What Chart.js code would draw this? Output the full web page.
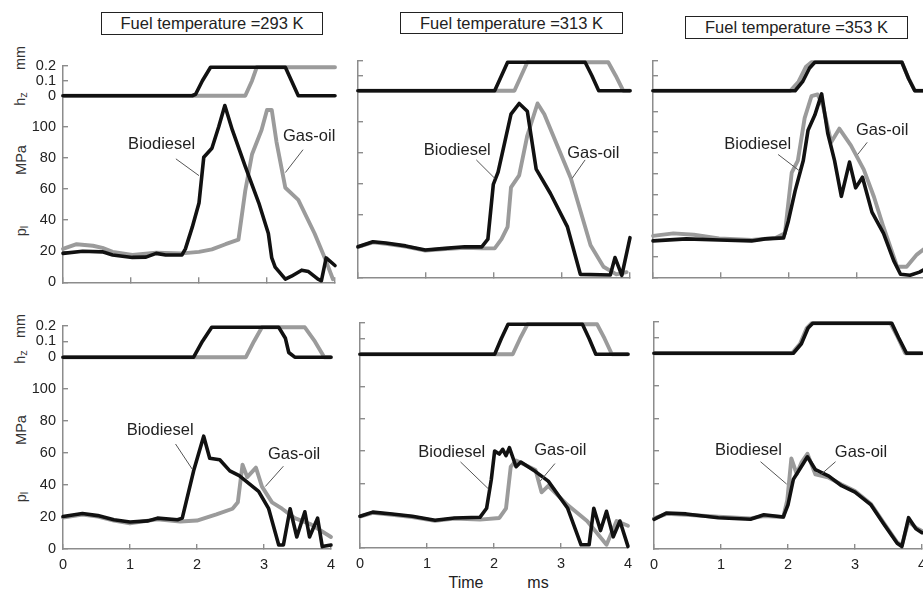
<!DOCTYPE html>
<html><head><meta charset="utf-8">
<script src="https://cdn.jsdelivr.net/npm/chart.js@4/dist/chart.umd.min.js"></script>
<style>
html,body{margin:0;padding:0;background:#fff;width:923px;height:593px;overflow:hidden;position:relative;font-family:"Liberation Sans",Arial,sans-serif;}
.pan{position:absolute;}
.box{position:absolute;border:1.5px solid #222;font-size:16.5px;line-height:20px;text-align:center;color:#222;box-sizing:border-box;white-space:nowrap;}
.rot{position:absolute;transform:translate(-50%,-50%) rotate(-90deg);font-size:14.5px;color:#333;white-space:nowrap;}
.rot sub{font-size:11px;vertical-align:-2px;}
.lab{position:absolute;font-size:16px;color:#222;transform:translate(-50%,-50%);white-space:nowrap;}
</style></head><body>
<div class="box" style="left:101px;top:12px;width:222px;height:23px;">Fuel temperature =293 K</div>
<div class="box" style="left:400px;top:12px;width:223px;height:22px;">Fuel temperature =313 K</div>
<div class="box" style="left:685px;top:16px;width:223px;height:23px;">Fuel temperature =353 K</div>

<div class="rot" style="left:20px;top:58px;">mm</div>
<div class="rot" style="left:20px;top:99px;">h<sub>z</sub></div>
<div class="rot" style="left:21px;top:160px;">MPa</div>
<div class="rot" style="left:21px;top:231px;">p<sub>l</sub></div>
<div class="rot" style="left:20px;top:326px;">mm</div>
<div class="rot" style="left:20px;top:357px;">h<sub>z</sub></div>
<div class="rot" style="left:21px;top:430px;">MPa</div>
<div class="rot" style="left:21px;top:497px;">p<sub>l</sub></div>
<div class="lab" style="left:466px;top:583px;">Time</div>
<div class="lab" style="left:538px;top:583px;">ms</div>

<script>
// ---------- data (time in ms, pressure in MPa, lift in mm) ----------
const TIME_TICKS = [0, 1, 2, 3, 4];
const HZ_TICKS = [0, 0.1, 0.2];
const P_STEP = 20;
const TEMPERATURES = ['293 K', '313 K', '353 K'];
const SERIES = ['Biodiesel', 'Gas-oil'];

// top row
const T293_BIO_P = [[0,18.6],[0.29,20],[0.58,19.6],[0.73,17.6],[1.02,16],[1.22,16.2],[1.37,18.6],[1.51,17.6],[1.75,17.6],[1.8,21.5],[1.9,35.3],[2.0,51],[2.07,80.4],[2.19,86.2],[2.29,100],[2.38,113.7],[2.49,98],[2.68,74.5],[2.88,51],[3.02,31.4],[3.07,15.7],[3.12,9.8],[3.27,2],[3.36,3.9],[3.51,7.8],[3.61,6.9],[3.75,2],[3.8,1],[3.87,15.7],[4.0,10.8]];
const T293_GAS_P = [[0,21.5],[0.2,24.5],[0.44,23.5],[0.58,22.1],[0.73,19.6],[1.02,17.6],[1.37,19],[1.75,18.6],[2.0,19.6],[2.19,21.2],[2.39,24.5],[2.58,27.4],[2.68,58.8],[2.78,82.4],[2.92,98],[3.0,110.8],[3.07,110.8],[3.14,90.2],[3.27,60.8],[3.46,53],[3.7,31.4],[3.85,15.7],[3.97,2]];
const T293_BIO_H = [[0,0],[1.9,0],[1.95,0.01],[2.05,0.1],[2.17,0.19],[3.27,0.19],[3.36,0.1],[3.46,0],[4,0]];
const T293_GAS_H = [[0,0],[2.68,0],[2.78,0.1],[2.85,0.19],[4,0.19]];

const T313_BIO_P = [[0,19.6],[0.22,22.9],[0.41,22.1],[0.7,20.2],[0.99,17.6],[1.28,18.6],[1.57,19.6],[1.82,19.6],[1.91,24.5],[1.99,59.8],[2.06,67.6],[2.16,87.2],[2.25,104.9],[2.37,111.8],[2.49,106.8],[2.62,69.6],[2.83,53.9],[3.08,32.4],[3.27,1.9],[3.71,1.5],[3.78,12.7],[3.88,1.2],[4.0,25.5]];
const T313_GAS_P = [[0,19.6],[0.22,22.5],[0.41,21.5],[0.7,19.8],[0.99,17.2],[1.28,18.2],[1.57,19],[1.82,18.6],[2.01,18.6],[2.11,24.5],[2.2,32.4],[2.25,57.8],[2.37,65.6],[2.49,91.2],[2.64,111.8],[2.74,104.9],[3.13,63.7],[3.42,20.6],[3.61,6.8],[3.8,1.9],[3.95,3.3]];
const T313_BIO_H = [[0,0],[2.01,0],[2.11,0.1],[2.2,0.19],[3.34,0.19],[3.44,0.1],[3.54,0],[4,0]];
const T313_GAS_H = [[0,0],[2.3,0],[2.4,0.1],[2.49,0.19],[3.68,0.19],[3.79,0.1],[3.9,0],[4,0]];

const T353_BIO_P = [[0,35.1],[0.49,37.1],[0.97,36],[1.45,35.1],[1.65,37.1],[1.92,38],[1.99,54.1],[2.09,83.4],[2.21,112.6],[2.28,141.9],[2.38,156.5],[2.48,177],[2.57,139],[2.67,112.6],[2.77,78.1],[2.89,111.2],[2.98,86.3],[3.08,96.6],[3.22,62.9],[3.39,42.4],[3.54,16.1],[3.64,2.9],[3.78,2],[3.92,5],[4.0,8]];
const T353_GAS_P = [[0,40],[0.3,42.4],[0.6,41],[0.97,37.5],[1.45,36],[1.8,38],[1.94,42.4],[2.04,101],[2.13,112.6],[2.23,153.6],[2.33,174.7],[2.42,176.5],[2.5,165.3],[2.62,130.2],[2.74,143.4],[2.91,127.3],[3.1,103.9],[3.25,77.5],[3.39,48.3],[3.59,10.2],[3.73,10.2],[3.88,21.9],[4.0,28]];
const T353_BIO_H = [[0,0],[2.09,0],[2.2,0.06],[2.3,0.15],[2.38,0.19],[3.66,0.19],[3.76,0.08],[3.85,0],[4,0]];
const T353_GAS_H = [[0,0],[2.02,0],[2.14,0.06],[2.25,0.16],[2.33,0.19],[3.66,0.19],[3.76,0.08],[3.85,0],[4,0]];

// bottom row
const B293_BIO_P = [[0,20.3],[0.29,22.2],[0.52,20.9],[0.76,18.3],[1.0,16.9],[1.27,17.6],[1.41,19.3],[1.71,18.3],[1.78,19.3],[1.95,48.9],[2.1,70.6],[2.19,56.8],[2.34,55.8],[2.49,48.9],[2.63,45.9],[2.92,36.1],[3.07,25.2],[3.22,2.5],[3.29,2.5],[3.39,25.2],[3.49,7.5],[3.61,23.3],[3.68,7.5],[3.8,19.3],[3.87,1.5],[4.0,2.5]];
const B293_GAS_P = [[0,19.7],[0.29,21.5],[0.52,20.3],[0.76,17.8],[1.0,16],[1.41,18.6],[1.75,17.2],[2.0,17.8],[2.29,21.7],[2.53,25.2],[2.61,29.2],[2.68,52.8],[2.75,45],[2.88,50.9],[2.97,39],[3.12,29.2],[3.27,25.2],[3.46,19.3],[3.7,15.4],[4.0,7.5]];
const B293_BIO_H = [[0,0],[1.95,0],[2.08,0.1],[2.22,0.19],[3.22,0.19],[3.32,0.12],[3.37,0.03],[3.46,0],[4,0]];
const B293_GAS_H = [[0,0],[2.73,0],[2.85,0.1],[2.97,0.19],[3.61,0.19],[3.76,0.1],[3.9,0],[4,0]];

const B313_BIO_P = [[0,19.7],[0.19,22.2],[0.48,21.1],[0.78,19.7],[1.12,17.2],[1.41,18.6],[1.79,19],[1.89,24.6],[1.96,42.4],[2.01,60.1],[2.08,58.2],[2.13,61.1],[2.18,57.2],[2.23,62.1],[2.33,50.3],[2.4,53.2],[2.62,47.3],[2.81,41.4],[3.1,24.6],[3.3,2],[3.42,2],[3.49,24.6],[3.59,10.8],[3.68,22.7],[3.78,6.9],[3.88,16.7],[4.0,1]];
const B313_GAS_P = [[0,19.5],[0.19,21.8],[0.48,20.6],[0.78,19.2],[1.12,16.8],[1.41,18.2],[1.79,17.6],[2.08,18.6],[2.18,24.6],[2.25,50.3],[2.33,54.2],[2.62,48.3],[2.71,34.5],[2.81,38.5],[3.1,26.6],[3.39,16.7],[3.68,2],[3.83,16.7],[4.0,13.8]];
const B313_BIO_H = [[0,0],[2.01,0],[2.11,0.1],[2.21,0.19],[3.32,0.19],[3.42,0.1],[3.52,0],[4,0]];
const B313_GAS_H = [[0,0],[2.28,0],[2.39,0.1],[2.5,0.19],[3.54,0.19],[3.65,0.1],[3.76,0],[4,0]];

const B353_BIO_P = [[0,18.2],[0.19,22.1],[0.48,21.5],[0.96,19.2],[1.44,18.2],[1.64,21],[1.93,19.6],[2.0,27],[2.08,42.7],[2.2,50.6],[2.29,56.5],[2.41,48.6],[2.61,44.7],[2.8,38.8],[3.0,34.9],[3.24,27],[3.43,15.3],[3.63,3.5],[3.7,1.5],[3.8,19.2],[3.91,12.4],[4.0,10]];
const B353_GAS_P = [[0,18.8],[0.19,21.5],[0.48,21],[0.96,19.8],[1.44,18.8],[1.64,20.2],[1.93,19.6],[1.99,30],[2.05,55.5],[2.13,46],[2.2,52.9],[2.29,58.4],[2.41,45.7],[2.61,43.7],[2.8,39.5],[3.0,35.5],[3.24,27.5],[3.43,16],[3.63,4],[3.7,2.5],[3.8,17],[3.91,13],[4.0,11]];
const B353_BIO_H = [[0,0],[2.08,0],[2.2,0.06],[2.3,0.16],[2.37,0.19],[3.55,0.19],[3.65,0.1],[3.77,0],[4,0]];
const B353_GAS_H = [[0,0],[2.06,0],[2.18,0.06],[2.28,0.16],[2.35,0.19],[3.53,0.19],[3.64,0.1],[3.75,0],[4,0]];

// ---------- layout of the six panels ----------
const PANELS = [
  {ax:63, ty:55, by:293, pMax:120, yLab:true, xLab:false, bioP:T293_BIO_P, gasP:T293_GAS_P, bioH:T293_BIO_H, gasH:T293_GAS_H,
   bioTxt:[1.45,88.7], bioLn:[1.66,79.4,2.0,68.6], gasTxt:[3.62,93.7], gasLn:[3.53,85.3,3.27,70.6]},
  {ax:358, ty:50, by:288, pMax:120, yLab:false, xLab:false, bioP:T313_BIO_P, gasP:T313_GAS_P, bioH:T313_BIO_H, gasH:T313_GAS_H,
   bioTxt:[1.46,81.8], bioLn:[1.74,75.5,2.01,63.7], gasTxt:[3.46,79.9], gasLn:[3.34,75.5,3.15,63.7]},
  {ax:653, ty:50, by:288, pMax:180, yLab:false, xLab:false, bioP:T353_BIO_P, gasP:T353_GAS_P, bioH:T353_BIO_H, gasH:T353_GAS_H,
   bioTxt:[1.54,128], bioLn:[1.84,118.5,2.16,102.4], gasTxt:[3.37,141.2], gasLn:[3.15,130.2,3.01,118.5]},
  {ax:63, ty:315, by:549, pMax:120, yLab:true, xLab:true, bioP:B293_BIO_P, gasP:B293_GAS_P, bioH:B293_BIO_H, gasH:B293_GAS_H,
   bioTxt:[1.45,74.0], bioLn:[1.68,65.7,1.93,49.9], gasTxt:[3.45,59.2], gasLn:[3.29,51.8,3.02,39.1]},
  {ax:360, ty:312, by:548, pMax:120, yLab:false, xLab:true, bioP:B313_BIO_P, gasP:B313_GAS_P, bioH:B313_BIO_H, gasH:B313_GAS_H,
   bioTxt:[1.37,59.2], bioLn:[1.50,53.3,1.92,36.5], gasTxt:[2.99,60.7], gasLn:[2.91,52.3,2.69,41.4]},
  {ax:654, ty:311, by:549, pMax:120, yLab:false, xLab:true, bioP:B353_BIO_P, gasP:B353_GAS_P, bioH:B353_BIO_H, gasH:B353_GAS_H,
   bioTxt:[1.41,60.4], bioLn:[1.59,53.5,1.98,39.8], gasTxt:[3.09,58.9], gasLn:[2.71,53.5,2.49,45.6]}
];

const FONT = '"Liberation Sans", Arial, sans-serif';
const BLACK = '#111111', GRAY = '#9b9b9b', AXIS = '#8c8c8c', TXT = '#222222';
const toPts = a => a.map(d => ({x: d[0], y: d[1]}));

function axisStyle() {
  return {
    grid: {display: true, drawOnChartArea: false, drawTicks: true, tickLength: -5, color: AXIS, tickColor: AXIS, tickWidth: 1.4, lineWidth: 1.4},
    border: {display: true, color: AXIS, width: 1.5}
  };
}

function makePanel(cfg, idx) {
  const YW = 50, PT = 10, PR = 10, XH = cfg.xLab ? 34 : 10;
  const h = cfg.by - cfg.ty;
  const W = YW + 274 + PR, H = PT + h + XH;
  const div = document.createElement('div');
  div.className = 'pan';
  div.style.left = (cfg.ax - YW) + 'px';
  div.style.top = (cfg.ty - PT) + 'px';
  div.style.width = W + 'px';
  div.style.height = H + 'px';
  const cv = document.createElement('canvas');
  cv.width = W; cv.height = H;
  cv.style.width = W + 'px'; cv.style.height = H + 'px';
  div.appendChild(cv);
  document.body.appendChild(div);

  const callouts = {
    id: 'callouts' + idx,
    afterDatasetsDraw(chart) {
      const c = chart.ctx, xs = chart.scales.x, ys = chart.scales.yp;
      c.save();
      c.strokeStyle = '#555'; c.lineWidth = 1;
      [cfg.bioLn, cfg.gasLn].forEach(l => {
        c.beginPath();
        c.moveTo(xs.getPixelForValue(l[0]), ys.getPixelForValue(l[1]));
        c.lineTo(xs.getPixelForValue(l[2]), ys.getPixelForValue(l[3]));
        c.stroke();
      });
      c.fillStyle = TXT; c.font = '16.5px ' + FONT; c.textAlign = 'center'; c.textBaseline = 'middle';
      c.fillText(SERIES[0], xs.getPixelForValue(cfg.bioTxt[0]), ys.getPixelForValue(cfg.bioTxt[1]));
      c.fillText(SERIES[1], xs.getPixelForValue(cfg.gasTxt[0]), ys.getPixelForValue(cfg.gasTxt[1]));
      c.restore();
    }
  };

  const line = (data, axis, color, width) => ({
    data: toPts(data), yAxisID: axis, borderColor: color, borderWidth: width,
    pointRadius: 0, tension: 0, fill: false, clip: false,
    borderJoinStyle: 'round', borderCapStyle: 'round'
  });

  new Chart(cv, {
    type: 'line',
    data: {datasets: [
      // first dataset is drawn on top in Chart.js, so biodiesel (black) comes first
      line(cfg.bioP, 'yp', BLACK, 3.6),
      line(cfg.bioH, 'yh', BLACK, 3.6),
      line(cfg.gasP, 'yp', GRAY, 3.9),
      line(cfg.gasH, 'yh', GRAY, 3.9)
    ]},
    options: {
      responsive: false, animation: false, events: [],
      layout: {padding: {top: PT, right: PR, left: 0, bottom: 0}},
      plugins: {legend: {display: false}, tooltip: {enabled: false}, title: {display: false}},
      scales: {
        x: Object.assign({
          type: 'linear', position: 'bottom', min: TIME_TICKS[0], max: TIME_TICKS[TIME_TICKS.length - 1],
          ticks: {stepSize: 1, autoSkip: false, maxRotation: 0, padding: 12, color: TXT, font: {family: FONT, size: 14.5},
                  callback: v => cfg.xLab ? String(v) : ''},
          afterFit: s => { s.height = XH; }
        }, axisStyle()),
        yp: Object.assign({
          type: 'linear', position: 'left', stack: 'col', stackWeight: h - 33, weight: 0,
          min: 0, max: cfg.pMax,
          ticks: {stepSize: P_STEP, autoSkip: false, padding: 12, color: TXT, font: {family: FONT, size: 14.5},
                  callback: v => (cfg.yLab && v < cfg.pMax) ? String(v) : ''},
          afterFit: s => { s.width = YW; }
        }, axisStyle()),
        yh: Object.assign({
          type: 'linear', position: 'left', stack: 'col', stackWeight: 33, weight: 1,
          min: HZ_TICKS[0], max: HZ_TICKS[HZ_TICKS.length - 1],
          ticks: {stepSize: 0.1, autoSkip: false, padding: 12, color: TXT, font: {family: FONT, size: 14.5},
                  callback: v => { if (!cfg.yLab) return ''; const r = Math.round(v * 10) / 10; return r === 0 ? '0' : r.toFixed(1); }},
          afterFit: s => { s.width = YW; }
        }, axisStyle())
      }
    },
    plugins: [callouts]
  });
}

PANELS.forEach(makePanel);
</script>
</body></html>
